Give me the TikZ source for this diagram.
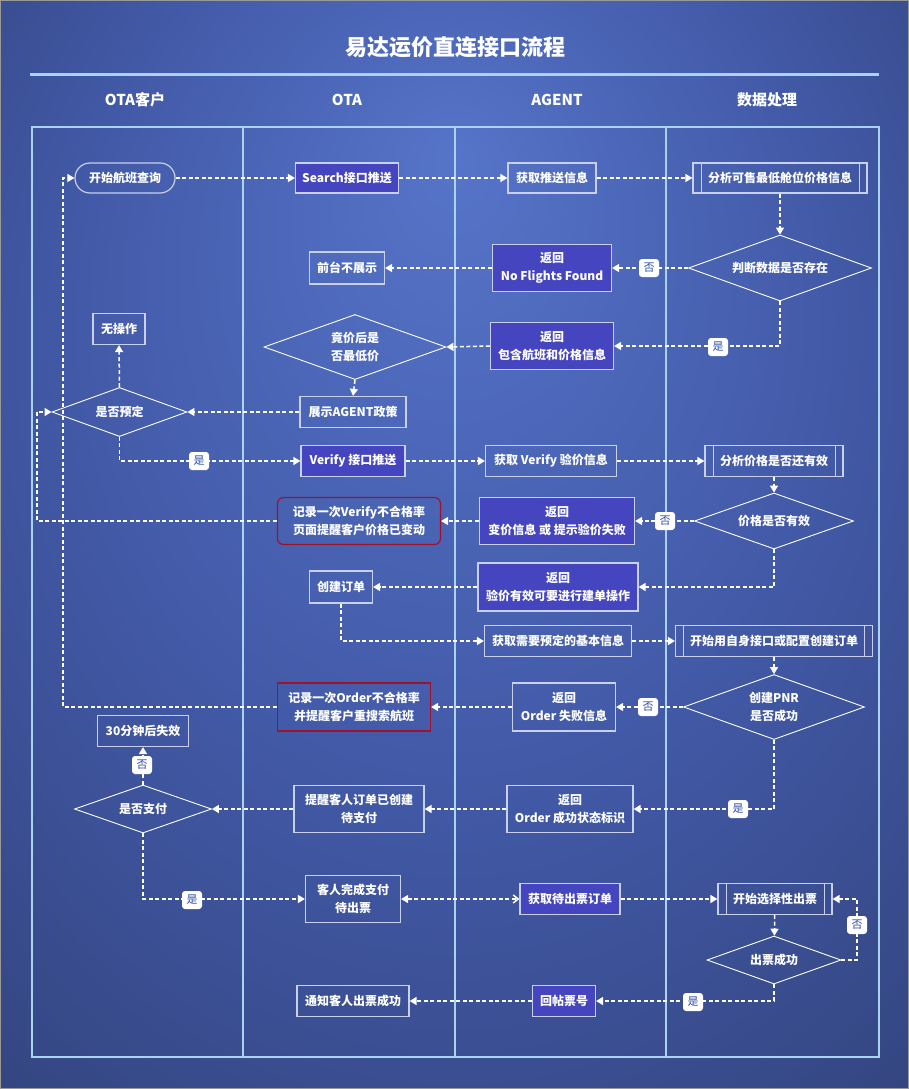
\documentclass[tikz,border=0pt]{standalone}
\usepackage{fontspec}
\setmainfont{Noto Sans CJK SC}
\usetikzlibrary{arrows.meta,shapes.geometric,calc}
\definecolor{bgA}{HTML}{5674C9}
\definecolor{bgB}{HTML}{4158A5}
\definecolor{bgC}{HTML}{2C3A6A}
\definecolor{lane}{HTML}{A9D3EE}
\definecolor{fillbox}{HTML}{4545C0}
\definecolor{boxline}{HTML}{C9D0EC}
\definecolor{redline}{HTML}{A0122C}
\definecolor{lblblue}{HTML}{2F4FA8}
\pgfdeclareradialshading{bgshade}{\pgfpoint{0bp}{18bp}}{color(0bp)=(bgA); color(22bp)=(bgB); color(48bp)=(bgC)}
\tikzset{
  txt/.style={text=white, font=\fontsize{12}{18}\selectfont\bfseries, align=center},
  box/.style={txt, draw=boxline, line width=1.2pt, rectangle, inner sep=0pt},
  fbox/.style={box, fill=fillbox},
  rbox/.style={txt, draw=redline, line width=1.2pt, rectangle, inner sep=0pt},
  subproc/.style={box, path picture={
      \draw[boxline, line width=1pt] ([xshift=8pt]path picture bounding box.north west) -- ([xshift=8pt]path picture bounding box.south west);
      \draw[boxline, line width=1pt] ([xshift=-8pt]path picture bounding box.north east) -- ([xshift=-8pt]path picture bounding box.south east);}},
  dia/.style={txt, draw=white, line width=0.9pt, shape=diamond, inner sep=0pt},
  flow/.style={draw=white, line width=1.5pt, dash pattern=on 4pt off 2.5pt, -{Triangle[width=8pt,length=7pt]}},
  lbl/.style={fill=white, rounded corners=3pt, text=lblblue, font=\fontsize{11}{11}\selectfont, inner sep=0pt, minimum width=20pt, minimum height=18pt},
  hdr/.style={text=white, font=\fontsize{15}{15}\selectfont\bfseries},
}
\begin{document}
\begin{tikzpicture}[x=1pt,y=-1pt]
\useasboundingbox (0,0) rectangle (909,1089);
\shade[shading=bgshade] (0,0) rectangle (909,1089);
\draw[color=gray!80, line width=1pt] (0.5,0.5) rectangle (908.5,1088.5);

% title and headers
\node[text=white, font=\fontsize{22}{22}\selectfont\bfseries] (title) at (455,47) {易达运价直连接口流程};
\draw[lane, line width=3pt] (30,75) -- (879,75);
\node[hdr] (h1) at (135,100) {OTA客户};
\node[hdr] (h2) at (347,100) {OTA};
\node[hdr] (h3) at (557,100) {AGENT};
\node[hdr] (h4) at (767,100) {数据处理};

% lanes
\draw[lane, line width=2pt] (32,127) rectangle (879,1057);
\draw[lane, line width=2pt] (243,127) -- (243,1057);
\draw[lane, line width=2pt] (455,127) -- (455,1057);
\draw[lane, line width=2pt] (666,127) -- (666,1057);

% nodes
\node[box, rounded corners=15pt, minimum width=100pt, minimum height=30pt] (start) at (125,178) {开始航班查询};
\node[fbox, minimum width=103pt, minimum height=30pt] (search) at (347,178) {Search接口推送};
\node[box, minimum width=88pt, minimum height=30pt] (getpush) at (552,178) {获取推送信息};
\node[subproc, minimum width=174pt, minimum height=30pt] (ana1) at (780,178) {分析可售最低舱位价格信息};
\node[dia, aspect=2.77, minimum width=183pt, minimum height=66pt] (d1) at (780,268) {判断数据是否存在};
\node[fbox, minimum width=119pt, minimum height=47pt] (nf) at (552,268) {返回\\No Flights Found};
\node[box, minimum width=75pt, minimum height=32pt] (hide) at (347,268) {前台不展示};
\node[box, minimum width=52pt, minimum height=31pt] (none) at (119,329) {无操作};
\node[dia, aspect=2.8, minimum width=182pt, minimum height=65pt] (d2) at (355,347) {竟价后是\\否最低价};
\node[fbox, minimum width=123pt, minimum height=47pt] (ret2) at (552,346) {返回\\包含航班和价格信息};
\node[box, minimum width=106pt, minimum height=31pt] (show) at (353,412) {展示AGENT政策};
\node[dia, aspect=2.75, minimum width=135pt, minimum height=49pt] (d3) at (119.5,412) {是否预定};
\node[fbox, minimum width=104pt, minimum height=31pt] (verify) at (353,461) {Verify 接口推送};
\node[box, minimum width=131pt, minimum height=31pt] (getver) at (551,461) {获取 Verify 验价信息};
\node[subproc, minimum width=138pt, minimum height=31pt] (ana2) at (774,461) {分析价格是否还有效};
\node[dia, aspect=2.84, minimum width=159pt, minimum height=56pt] (d4) at (774,521) {价格是否有效};
\node[fbox, minimum width=155pt, minimum height=47pt] (ret3) at (557,521) {返回\\变价信息 或 提示验价失败};
\node[rbox, rounded corners=6pt, minimum width=163pt, minimum height=47pt] (rec1) at (359,521) {记录一次Verify不合格率\\页面提醒客户价格已变动};
\node[fbox, minimum width=160pt, minimum height=48pt] (ret4) at (558,587) {返回\\验价有效可要进行建单操作};
\node[box, minimum width=63pt, minimum height=32pt] (create) at (341,587) {创建订单};
\node[box, minimum width=147pt, minimum height=31pt] (getbasic) at (558,641) {获取需要预定的基本信息};
\node[subproc, minimum width=197pt, minimum height=31pt] (ana3) at (774,641) {开始用自身接口或配置创建订单};
\node[dia, aspect=2.78, minimum width=181pt, minimum height=65pt] (d5) at (774,707) {创建PNR\\是否成功};
\node[box, minimum width=103pt, minimum height=48pt] (ret5) at (564,707) {返回\\Order 失败信息};
\node[rbox, minimum width=153pt, minimum height=48pt] (rec2) at (354,707) {记录一次Order不合格率\\并提醒客户重搜索航班};
\node[box, minimum width=91pt, minimum height=31pt] (fail) at (143,731) {30分钟后失效};
\node[dia, aspect=2.85, minimum width=137pt, minimum height=48pt] (d6) at (143,809) {是否支付};
\node[box, minimum width=130pt, minimum height=47pt] (remind) at (359,809) {提醒客人订单已创建\\待支付};
\node[box, minimum width=126pt, minimum height=47pt] (ret6) at (570,809) {返回\\Order 成功状态标识};
\node[box, minimum width=95pt, minimum height=47pt] (paid) at (353,899) {客人完成支付\\待出票};
\node[fbox, minimum width=100pt, minimum height=31pt] (getticket) at (570,899) {获取待出票订单};
\node[subproc, minimum width=114pt, minimum height=31pt] (sel) at (775,899) {开始选择性出票};
\node[dia, aspect=2.8, minimum width=134pt, minimum height=48pt] (d7) at (774,960) {出票成功};
\node[fbox, minimum width=63pt, minimum height=31pt] (post) at (564,1001) {回帖票号};
\node[box, minimum width=112pt, minimum height=31pt] (notify) at (353,1001) {通知客人出票成功};

% helper x positions
\coordinate (lx1) at (37,0);
\coordinate (lx2) at (63,0);
\coordinate (rx) at (857,0);

% connectors
\draw[flow] (start) -- (search);
\draw[flow] (search) -- (getpush);
\draw[flow] (getpush) -- (ana1);
\draw[flow] (ana1) -- (d1);
\draw[flow] (d1.west) -- (nf.east);
\draw[flow] (nf) -- (hide);
\draw[flow] (d1.south) |- (ret2.east);
\draw[flow] (ret2.west) -- (d2.east);
\draw[flow] (d2.south) -- (show.north);
\draw[flow] (show.west) -- (d3.east);
\draw[flow] (d3.north) -- (none.south);
\draw[flow] (d3.south) |- (verify.west);
\draw[flow] (verify) -- (getver);
\draw[flow] (getver) -- (ana2);
\draw[flow] (ana2) -- (d4);
\draw[flow] (d4.west) -- (ret3.east);
\draw[flow] (ret3) -- (rec1);
\draw[flow] (rec1.west) -- (rec1.west -| lx1) -- (lx1 |- d3.west) -- (d3.west);
\draw[flow] (d4.south) |- (ret4.east);
\draw[flow] (ret4) -- (create);
\draw[flow] (create.south) |- (getbasic.west);
\draw[flow] (getbasic) -- (ana3);
\draw[flow] (ana3) -- (d5);
\draw[flow] (d5.west) -- (ret5.east);
\draw[flow] (ret5) -- (rec2);
\draw[flow] (rec2.west) -- (rec2.west -| lx2) -- (lx2 |- start.west) -- (start.west);
\draw[flow] (d5.south) |- (ret6.east);
\draw[flow] (ret6) -- (remind);
\draw[flow] (remind.west) -- (d6.east);
\draw[flow] (d6.north) -- (fail.south);
\draw[flow] (d6.south) |- (paid.west);
\draw[flow, {Triangle[width=8pt,length=7pt]}-{Straight Barb[width=8pt,length=5pt]}] (paid) -- (getticket);
\draw[flow] (getticket) -- (sel);
\draw[flow] (sel) -- (d7);
\draw[flow] (d7.east) -- (d7.east -| rx) -- (rx |- sel.east) -- (sel.east);
\draw[flow] (d7.south) |- (post.east);
\draw[flow] (post) -- (notify);

% decision labels
\node[lbl] (l1) at (649,268) {否};
\node[lbl] (l2) at (718,347) {是};
\node[lbl] (l3) at (199,461) {是};
\node[lbl] (l4) at (665,521) {否};
\node[lbl] (l5) at (648,707) {否};
\node[lbl] (l6) at (738,809) {是};
\node[lbl] (l7) at (142,765) {否};
\node[lbl] (l8) at (192,900) {是};
\node[lbl] (l9) at (857,925) {否};
\node[lbl] (l10) at (693,1002) {是};
\end{tikzpicture}
\end{document}
